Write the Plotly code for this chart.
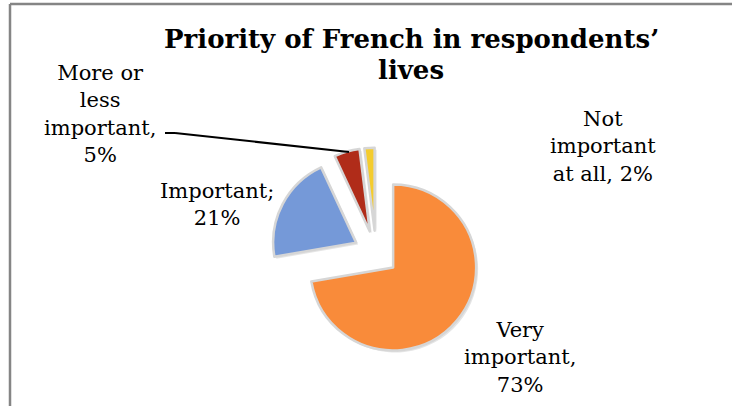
import plotly.graph_objects as go

W, H = 732, 406

# Survey answers, drawn clockwise from 12 o'clock
categories = ["Very important", "Important", "More or less important", "Not important at all"]
shares = [73, 21, 5, 2]
colors = ["#F98B3A", "#7599D8", "#B02C19", "#F4CC2E"]

# Wrapped label text and the separator used before the percentage
label_lines = ["Very<br>important", "Important", "More or<br>less<br>important", "Not<br>important<br>at all"]
label_seps = [",<br>", ";<br>", ",<br>", ", "]
# Label centres in pixels (x, y from top)
label_pos = [(520, 357), (217, 204), (100, 114), (603, 147)]

title_lines = ["Priority of French in respondents’", "lives"]
title_line_y = [39, 70]

SERIF = "DejaVu Serif"

# Pie geometry in pixels
cx, cy, radius, pull = 376, 253, 83, 0.27
half = radius * (1 + pull)


def px_x(x):
    return x / W


def px_y(y):
    return 1 - y / H


fig = go.Figure()

# soft drop shadow under the slices
fig.add_trace(go.Pie(
    values=shares,
    labels=categories,
    sort=False,
    direction="clockwise",
    rotation=0,
    pull=[pull] * len(shares),
    marker=dict(colors=["rgba(0,0,0,0.10)"] * len(shares), line=dict(width=0)),
    textinfo="none",
    hoverinfo="skip",
    showlegend=False,
    domain=dict(x=[px_x(cx - half + 2), px_x(cx + half + 2)],
                y=[px_y(cy + half + 2), px_y(cy - half + 2)]),
))

fig.add_trace(go.Pie(
    values=shares,
    labels=categories,
    sort=False,
    direction="clockwise",
    rotation=0,
    pull=[pull] * len(shares),
    marker=dict(colors=colors, line=dict(color="#D6D6D6", width=2.5)),
    textinfo="none",
    showlegend=False,
    domain=dict(x=[px_x(cx - half), px_x(cx + half)],
                y=[px_y(cy + half), px_y(cy - half)]),
))

annotations = []
for name, sep, v, (lx, ly) in zip(label_lines, label_seps, shares, label_pos):
    annotations.append(dict(
        x=px_x(lx), y=px_y(ly), xref="paper", yref="paper",
        text=f"{name}{sep}{v}%", showarrow=False,
        xanchor="center", yanchor="middle", align="center",
        font=dict(family=SERIF, size=21, color="#000000"),
    ))

for line, ty in zip(title_lines, title_line_y):
    annotations.append(dict(
        x=px_x(411), y=px_y(ty), xref="paper", yref="paper",
        text=f"<b>{line}</b>", showarrow=False,
        xanchor="center", yanchor="middle", align="center",
        font=dict(family=SERIF, size=26, color="#000000"),
    ))

shapes = [
    # chart frame (top and left edges)
    dict(type="line", xref="paper", yref="paper",
         x0=px_x(10), x1=1.0, y0=px_y(4), y1=px_y(4),
         line=dict(color="#858585", width=2.5)),
    dict(type="line", xref="paper", yref="paper",
         x0=px_x(10), x1=px_x(10), y0=px_y(4), y1=0.0,
         line=dict(color="#858585", width=2.5)),
    # leader line to the "More or less important" slice
    dict(type="line", xref="paper", yref="paper",
         x0=px_x(165), x1=px_x(175), y0=px_y(133), y1=px_y(133),
         line=dict(color="#000000", width=2)),
    dict(type="line", xref="paper", yref="paper",
         x0=px_x(175), x1=px_x(349), y0=px_y(133), y1=px_y(152),
         line=dict(color="#000000", width=2)),
]

fig.update_layout(
    width=W, height=H,
    margin=dict(l=0, r=0, t=0, b=0),
    paper_bgcolor="white", plot_bgcolor="white",
    annotations=annotations,
    shapes=shapes,
)

fig.write_html("out.html")
